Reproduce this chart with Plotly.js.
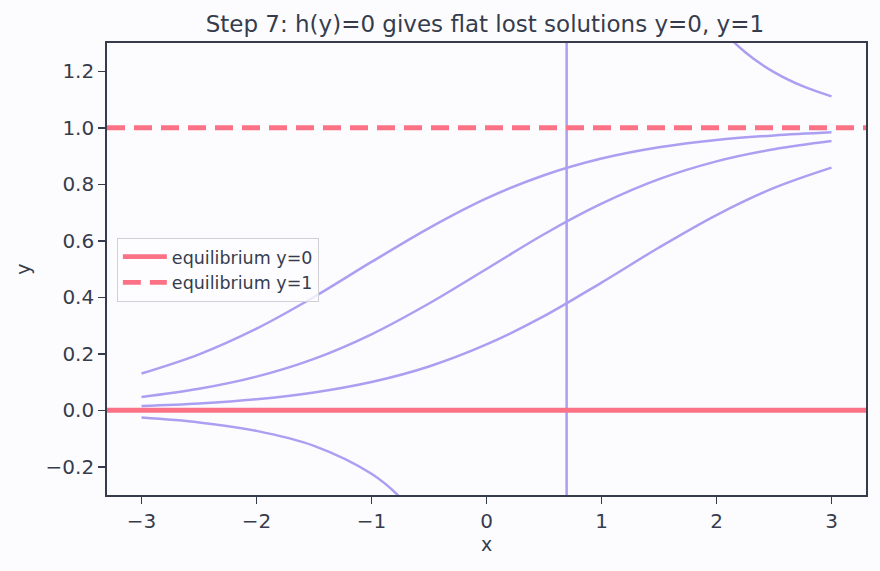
<!DOCTYPE html>
<html>
<head>
<meta charset="utf-8">
<script src="https://cdn.plot.ly/plotly-3.0.1.min.js"></script>
<style>html,body{margin:0;padding:0;background:#fcfcff;}#chart{width:880px;height:571px;}</style>
</head>
<body>
<div id="chart"></div>
<script>
// x samples for solution curves
const xs = [-3, -2.5, -2, -1.5, -1, -0.5, 0, 0.5, 1, 1.5, 2, 2.5, 3];
// solution curves
const curveA = [0.130, 0.198, 0.289, 0.401, 0.525, 0.645, 0.750, 0.832, 0.891, 0.931, 0.957, 0.973, 0.984];
const curveB = [0.047, 0.076, 0.119, 0.182, 0.269, 0.378, 0.500, 0.623, 0.731, 0.818, 0.881, 0.924, 0.953];
const curveC = [0.015, 0.024, 0.039, 0.063, 0.100, 0.155, 0.233, 0.333, 0.452, 0.576, 0.691, 0.787, 0.859];
// curve that blows up near x = 0.69 (drawn through the asymptote)
const xsD = [-3, -2.5, -2, -1.5, -1, -0.75, -0.5, -0.25, 0, 0.25, 0.5, 0.69, 0.70, 1, 1.5, 1.75, 2, 2.25, 2.5, 2.75, 3];
const curveD = [-0.026, -0.043, -0.073, -0.126, -0.225, -0.309, -0.435, -0.636, -1.0, -1.76, -4.69, -315, 146, 3.79, 1.81, 1.533, 1.371, 1.267, 1.197, 1.147, 1.111];
// equilibria
const eqX = [-3.3, 3.3];
const eq0 = [0, 0];
const eq1 = [1, 1];

const purple = '#ab9ff2';
const red = '#fb7185';
const ink = '#363c4c';

// split curve D: smooth branches, straight jump through the asymptote
const iLowEnd = xsD.indexOf(0.5);
const iUpStart = xsD.indexOf(1);
const lowX = xsD.slice(0, iLowEnd + 1), lowY = curveD.slice(0, iLowEnd + 1);
const jumpX = xsD.slice(iLowEnd, iUpStart + 1), jumpY = curveD.slice(iLowEnd, iUpStart + 1);
const upX = xsD.slice(iUpStart), upY = curveD.slice(iUpStart);

const lw = 2.5;
const curveLine = {color: purple, width: lw, shape: 'spline'};
const base = {mode: 'lines', showlegend: false, hoverinfo: 'skip'};
const traces = [
  Object.assign({x: xs, y: curveA, line: curveLine}, base),
  Object.assign({x: xs, y: curveB, line: curveLine}, base),
  Object.assign({x: xs, y: curveC, line: curveLine}, base),
  Object.assign({x: lowX, y: lowY, line: curveLine}, base),
  Object.assign({x: jumpX, y: jumpY, line: {color: purple, width: lw, shape: 'linear'}}, base),
  Object.assign({x: upX, y: upY, line: curveLine}, base),
  {x: eqX, y: eq0, mode: 'lines', name: 'equilibrium y=0', line: {color: red, width: 4.8}},
  {x: eqX, y: eq1, mode: 'lines', name: 'equilibrium y=1', line: {color: red, width: 4.8, dash: '18px,9px'}}
];

const layout = {
  width: 880, height: 571,
  paper_bgcolor: '#fcfcff', plot_bgcolor: '#fcfcff',
  font: {family: 'DejaVu Sans', color: ink, size: 20},
  margin: {l: 107, r: 14, t: 43, b: 76},
  title: {text: 'Step 7: h(y)=0 gives flat lost solutions y=0, y=1', font: {size: 23, color: ink}, x: 0.551, xanchor: 'center', y: 0.958, yanchor: 'middle'},
  xaxis: {
    range: [-3.3, 3.3], tickvals: [-3, -2, -1, 0, 1, 2, 3], ticktext: ['−3', '−2', '−1', '0', '1', '2', '3'],
    ticks: 'outside', ticklen: 7, tickwidth: 1.5, tickcolor: ink,
    showline: true, mirror: true, linecolor: ink, linewidth: 1.8,
    showgrid: false, zeroline: false,
    title: {text: 'x', font: {size: 19}, standoff: 6}
  },
  yaxis: {
    range: [-0.3, 1.3], tickvals: [-0.2, 0, 0.2, 0.4, 0.6, 0.8, 1.0, 1.2], ticktext: ['−0.2', '0.0', '0.2', '0.4', '0.6', '0.8', '1.0', '1.2'],
    ticks: 'outside', ticklen: 7, tickwidth: 1.5, tickcolor: ink,
    showline: true, mirror: true, linecolor: ink, linewidth: 1.8,
    showgrid: false, zeroline: false,
    title: {text: 'y', font: {size: 19}, standoff: 10}
  },
  legend: {
    x: 0.013, y: 0.569, xanchor: 'left', yanchor: 'top',
    bgcolor: 'rgba(252,252,255,0.8)', bordercolor: '#d0d0d6', borderwidth: 1,
    font: {size: 17.5, color: ink}, itemwidth: 44
  },
  showlegend: true
};

Plotly.newPlot('chart', traces, layout, {displayModeBar: false, staticPlot: true});
</script>
</body>
</html>
